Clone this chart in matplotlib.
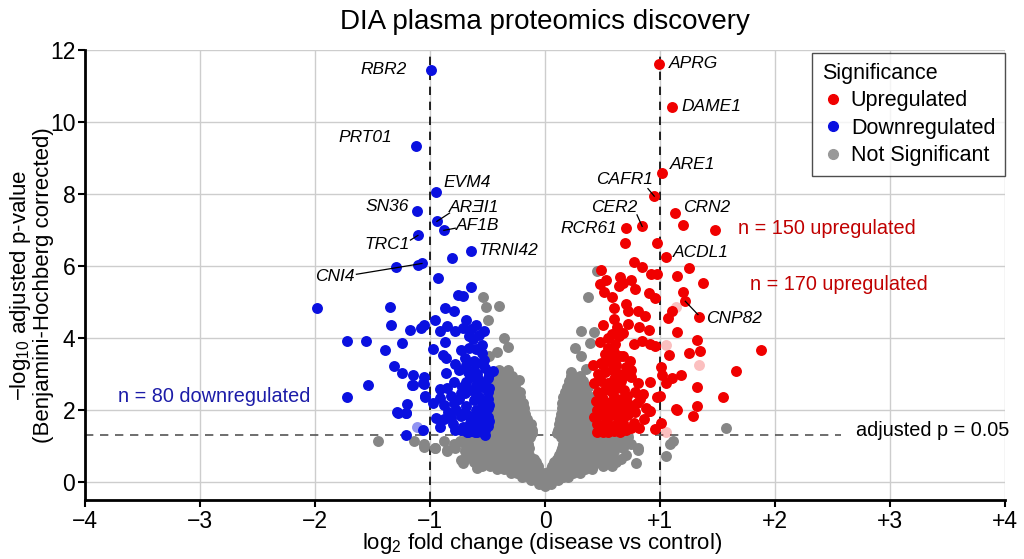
import matplotlib
matplotlib.use("Agg")
import matplotlib.pyplot as plt
from matplotlib.lines import Line2D

plt.rcParams['font.family'] = ['Liberation Sans', 'DejaVu Sans']
plt.rcParams['mathtext.default'] = 'regular'

# ---------------- data ----------------
x_ticks = [-4, -3, -2, -1, 0, 1, 2, 3, 4]
x_tick_labels = ['\u22124', '\u22123', '\u22122', '\u22121', '0', '+1', '+2', '+3', '+4']
y_ticks = [0, 2, 4, 6, 8, 10, 12]

# Not significant proteins, read row by row (y level, x values)
gray_rows = [
    (-0.12, [0.0]),
    (-0.05, [-0.05, 0.0, 0.05]),
    (0.05, [-0.12, -0.06, 0.0, 0.06, 0.11]),
    (0.15, [-0.2, -0.14, -0.08, -0.02, 0.04, 0.1, 0.16, 0.2]),
    (0.25, [-0.3, -0.24, -0.18, -0.12, -0.06, 0.0, 0.06, 0.12, 0.18, 0.24, 0.3]),
    (0.35, [-0.42, -0.36, -0.3, -0.24, -0.18, -0.12, -0.06, 0.05, 0.11, 0.17, 0.23, 0.29, 0.35, 0.41]),
    (0.45, [-0.55, -0.48, -0.42, -0.36, -0.3, -0.24, -0.18, -0.12, -0.06, 0.06, 0.12, 0.18, 0.24, 0.3, 0.36, 0.42, 0.5, 0.58]),
    (0.55, [-0.62, -0.52, -0.46, -0.4, -0.34, -0.28, -0.22, -0.16, -0.08, 0.08, 0.15, 0.21, 0.27, 0.33, 0.39, 0.46, 0.53, 0.62]),
    (0.65, [-0.7, -0.6, -0.54, -0.48, -0.42, -0.36, -0.3, -0.24, -0.18, -0.1, 0.1, 0.17, 0.23, 0.29, 0.35, 0.41, 0.48, 0.56, 0.66]),
    (0.75, [-0.66, -0.58, -0.52, -0.46, -0.4, -0.34, -0.28, -0.22, -0.14, 0.12, 0.19, 0.25, 0.31, 0.37, 0.43, 0.5, 0.58, 0.7]),
    (0.85, [-0.85, -0.7, -0.62, -0.55, -0.49, -0.43, -0.37, -0.31, -0.25, -0.16, 0.14, 0.2, 0.26, 0.32, 0.38, 0.44, 0.52, 0.6]),
    (0.95, [-0.96, -0.78, -0.66, -0.58, -0.52, -0.46, -0.4, -0.34, -0.28, -0.2, -0.14, 0.15, 0.21, 0.27, 0.33, 0.39, 0.45, 0.55, 0.68, 0.81]),
    (1.05, [-1.05, -0.79, -0.7, -0.6, -0.53, -0.47, -0.41, -0.35, -0.29, -0.22, -0.15, 0.16, 0.22, 0.28, 0.34, 0.4, 0.46, 0.53, 0.62, 0.75, 1.09]),
    (1.15, [-1.45, -1.14, -0.88, -0.74, -0.64, -0.55, -0.49, -0.43, -0.37, -0.31, -0.25, -0.17, 0.17, 0.23, 0.29, 0.35, 0.41, 0.47, 0.55, 0.66, 1.11]),
    (1.25, [-0.68, -0.57, -0.51, -0.45, -0.39, -0.33, -0.27, -0.2, -0.13, 0.14, 0.2, 0.26, 0.32, 0.38, 0.44, 0.5, 0.6, 0.72]),
    (1.35, [-0.47, -0.41, -0.35, -0.29, -0.23, -0.17, -0.11, 0.1, 0.16, 0.22, 0.28, 0.34, 0.4]),
    (1.45, [-0.46, -0.4, -0.34, -0.28, -0.22, -0.16, -0.11, 0.11, 0.17, 0.23, 0.29, 0.35, 0.41]),
    (1.6, [-0.47, -0.41, -0.35, -0.29, -0.23, -0.17, -0.12, 0.12, 0.18, 0.24, 0.3, 0.36, 0.42]),
    (1.75, [-0.46, -0.4, -0.34, -0.28, -0.22, -0.16, 0.13, 0.19, 0.25, 0.31, 0.37, 0.42]),
    (1.9, [-0.47, -0.41, -0.35, -0.29, -0.23, -0.17, 0.14, 0.2, 0.26, 0.32, 0.38]),
    (2.05, [-0.46, -0.4, -0.34, -0.28, -0.22, -0.18, 0.15, 0.21, 0.27, 0.33, 0.39]),
    (2.2, [-0.47, -0.41, -0.35, -0.29, -0.23, -0.19, 0.15, 0.21, 0.27, 0.33, 0.39]),
    (2.35, [-0.46, -0.4, -0.34, -0.28, -0.22, 0.16, 0.22, 0.28, 0.34, 0.4]),
    (2.5, [-0.45, -0.39, -0.33, -0.27, -0.22, 0.17, 0.23, 0.29, 0.35]),
    (2.65, [-0.44, -0.38, -0.32, -0.26, 0.19, 0.25, 0.31, 0.37]),
    (2.8, [-0.43, -0.37, -0.31, -0.25, 0.21, 0.27, 0.33]),
    (2.95, [-0.41, -0.35, -0.29, 0.23, 0.3]),
    (3.1, [-0.40, -0.32]),
]
gray_extra_x = [-0.73, -0.71, -0.59, -0.85, -0.96, -1.05, -0.23, -0.42, -0.49, -0.32, -0.36, -0.50, -0.51, -0.40, -0.54,
                0.79, 0.81, 1.05, 0.70, 0.23, 0.36, 0.31, 0.26, 0.39, 0.31, 0.43, 0.37, 0.455, 1.57]
gray_extra_y = [0.61, 0.53, 0.39, 0.89, 0.95, 0.97, 2.84, 3.6, 3.49, 3.76, 4.0, 4.5, 4.87, 4.88, 5.15,
                0.53, 0.89, 0.72, 1.2, 3.06, 3.15, 3.5, 3.73, 3.87, 4.2, 4.18, 5.13, 5.85, 1.5]

# Downregulated proteins
down_x = [-0.99, -1.12, -0.95, -1.11, -0.94, -0.88, -1.105, -0.645, -1.07,
          -0.81, -1.30, -1.105, -0.93, -0.64, -0.76, -0.71, -1.98, -1.35, -0.87, -0.79, -1.34, -1.17, -1.08, -1.05,
          -0.96, -0.91, -0.85, -0.69, -0.71, -0.64, -0.60, -0.57, -0.63, -1.72, -1.56, -1.24, -1.39, -0.97, -0.87,
          -0.73, -0.66, -0.55, -0.89, -0.86, -0.78, -0.69, -0.62, -0.53, -1.31, -1.24, -1.15, -1.05, -1.05, -1.15,
          -1.54, -1.72, -1.04, -0.91, -0.86, -0.79, -0.72, -0.69, -0.65, -0.59, -0.52, -0.45, -0.91, -0.82, -0.73,
          -0.70, -0.62, -0.55, -0.97, -0.88, -0.79, -0.69, -0.62, -0.53, -1.20, -1.28, -1.21, -0.95, -0.82, -0.73,
          -0.66, -0.59, -0.52, -0.91, -0.78, -0.71, -0.65, -0.58, -0.52, -1.06, -1.21, -0.59, -0.53, -0.68, -0.73,
          -0.50, -0.55, -0.50, -0.56, -0.50, -0.55, -0.60, -0.50, -0.57, -0.50, -0.60, -0.52, -0.58, -0.50, -0.62,
          -0.64, -0.56, -0.60, -0.66, -0.75, -0.77, -0.84, -0.70, -0.85, -0.80, -0.88, -0.62, -0.67, -0.56, -0.75,
          -0.70, -0.55, -0.60, -0.66, -0.78, -0.53, -1.29, -1.21, -1.16, -1.06, -1.04, -0.49, -0.49, -0.49, -0.49,
          -0.54, -0.58, -0.61, -0.64, -0.67, -0.52]
down_y = [11.45, 9.33, 8.05, 7.52, 7.24, 6.99, 6.85, 6.41, 6.07,
          6.23, 5.97, 6.02, 5.67, 5.41, 5.19, 5.16, 4.83, 4.85, 4.82, 4.74, 4.35, 4.23, 4.27, 4.37,
          4.51, 4.19, 4.33, 4.51, 4.27, 4.25, 4.37, 4.09, 3.96, 3.93, 3.92, 3.85, 3.68, 3.70, 3.88,
          3.66, 3.72, 3.58, 3.54, 3.45, 3.29, 3.24, 3.35, 3.40, 3.23, 3.04, 2.98, 2.93, 2.73, 2.70,
          2.70, 2.36, 2.38, 2.58, 3.03, 2.79, 2.65, 2.79, 2.93, 3.01, 3.17, 3.07, 2.33, 2.40, 2.47,
          2.47, 2.56, 2.65, 2.19, 2.14, 2.19, 2.10, 2.28, 2.19, 2.17, 1.93, 1.91, 1.77, 1.77, 1.82,
          1.82, 1.91, 1.96, 1.54, 1.45, 1.54, 1.64, 1.68, 1.45, 1.45, 1.31, 1.40, 1.37, 1.40, 1.45,
          1.55, 1.60, 1.80, 1.85, 2.05, 2.10, 2.00, 2.30, 2.35, 2.50, 2.45, 2.75, 2.85, 2.90, 1.75,
          1.50, 1.50, 2.70, 2.55, 2.30, 2.00, 1.95, 1.95, 2.60, 1.60, 1.75, 3.10, 3.05, 3.30, 3.10,
          3.45, 3.80, 3.70, 4.05, 4.20, 4.20, 1.95, 1.92, 2.70, 2.76, 2.37, 1.70, 2.15, 2.60, 3.00,
          1.38, 1.42, 1.38, 1.42, 1.38, 1.30]

# Upregulated proteins
up_x = [0.99, 1.10, 1.02, 0.95, 0.845, 0.70, 1.13, 1.20, 1.48, 1.05, 1.34,
        0.695, 0.97, 0.77, 0.84, 0.925, 0.97, 1.15, 1.25, 1.37, 0.68, 0.64, 0.78, 0.51, 0.58, 0.905, 0.96,
        1.20, 1.22, 1.10, 1.07, 0.60, 0.72, 0.81, 0.87, 0.60, 0.82, 0.90, 1.15, 0.58, 0.64, 0.84, 0.91,
        0.955, 1.32, 1.345, 1.25, 1.08, 1.88, 1.66, 1.55, 1.32, 1.32, 1.29, 1.185, 1.10, 1.055, 1.01, 1.02,
        1.15, 1.00, 1.01, 0.955, 0.91, 0.83, 0.77, 0.91, 0.81, 0.75, 0.695, 0.74, 0.68, 0.55, 0.61, 0.77,
        0.58, 0.42, 0.49, 1.14, 0.90, 0.97, 0.71, 0.49, 0.53,
        0.45, 0.50, 0.55, 0.60, 0.65, 0.70, 0.45, 0.52, 0.58, 0.63, 0.68, 0.43, 0.48, 0.55, 0.60, 0.66,
        0.72, 0.45, 0.50, 0.56, 0.62, 0.68, 0.74, 0.44, 0.50, 0.55, 0.60, 0.66, 0.71, 0.46, 0.52, 0.58,
        0.63, 0.69, 0.43, 0.49, 0.55, 0.60, 0.66, 0.46, 0.52, 0.58, 0.64, 0.50, 0.56, 0.62, 0.78, 0.80,
        0.85, 0.78, 0.86, 0.82, 0.88, 0.75, 0.47, 0.53, 0.64, 0.70, 0.57, 0.62, 0.75, 0.70, 0.65, 0.60,
        0.52, 0.48, 0.55, 0.63, 0.68, 0.72, 0.50, 0.70, 0.65, 0.48, 0.75]
up_y = [11.6, 10.42, 8.58, 7.94, 7.10, 7.05, 7.46, 7.13, 6.99, 6.24, 4.57,
        6.65, 6.63, 6.12, 5.97, 5.77, 5.77, 5.72, 5.95, 5.52, 5.52, 5.44, 5.35, 5.27, 5.13, 5.24, 5.10,
        5.27, 5.02, 4.74, 4.56, 4.84, 4.76, 4.74, 4.60, 4.53, 4.31, 4.21, 4.16, 4.12, 4.05, 3.91, 3.82,
        3.78, 3.94, 3.63, 3.57, 3.52, 3.66, 3.09, 2.36, 2.64, 2.10, 1.82, 2.96, 2.89, 2.75, 3.19, 2.98,
        2.01, 2.40, 1.65, 1.47, 1.96, 2.30, 1.64, 2.79, 2.75, 2.93, 2.98, 3.35, 3.49, 3.72, 3.82, 3.82,
        3.45, 3.26, 3.31, 2.02, 1.96, 2.36, 1.87, 5.90, 5.60,
        1.40, 1.40, 1.38, 1.42, 1.40, 1.45, 1.60, 1.62, 1.55, 1.60, 1.65, 1.80, 1.85, 1.80, 1.85, 1.80,
        1.90, 2.00, 2.05, 2.00, 2.10, 2.05, 2.15, 2.25, 2.30, 2.20, 2.35, 2.30, 2.40, 2.50, 2.55, 2.50,
        2.60, 2.55, 2.75, 2.80, 2.75, 2.85, 2.80, 3.00, 3.05, 3.10, 3.00, 3.25, 3.35, 3.25, 2.50, 2.20,
        2.45, 1.95, 1.75, 1.50, 2.05, 1.50, 1.50, 1.70, 1.95, 2.25, 2.62, 2.72, 3.10, 3.20, 3.50, 3.60,
        3.55, 3.90, 4.00, 4.30, 4.15, 4.40, 4.35, 4.95, 5.70, 5.50, 5.60]

# faint (semi-transparent) points seen in the picture
faint_up_x = [1.14, 1.05, 1.34, 1.055]
faint_up_y = [4.87, 3.80, 3.25, 1.40]
faint_down_x = [-1.11]
faint_down_y = [1.53]

# labelled proteins: name, text x, text y, ha
labels = [
    ('RBR2', -1.20, 11.45, 'right'),
    ('PRT01', -1.33, 9.58, 'right'),
    ('EVM4', -0.88, 8.33, 'left'),
    ('SN36', -1.18, 7.66, 'right'),
    ('AR\u018eI1', -0.835, 7.63, 'left'),
    ('AF1B', -0.775, 7.13, 'left'),
    ('TRC1', -1.18, 6.60, 'right'),
    ('TRNI42', -0.575, 6.43, 'left'),
    ('CNI4', -1.66, 5.71, 'right'),
    ('APRG', 1.08, 11.62, 'left'),
    ('DAME1', 1.19, 10.42, 'left'),
    ('ARE1', 1.09, 8.83, 'left'),
    ('CAFR1', 0.94, 8.41, 'right'),
    ('CER2', 0.80, 7.63, 'right'),
    ('RCR61', 0.63, 7.05, 'right'),
    ('CRN2', 1.20, 7.63, 'left'),
    ('ACDL1', 1.11, 6.38, 'left'),
    ('CNP82', 1.40, 4.54, 'left'),
]
connectors = [
    ((-0.94, 7.24), (-0.83, 7.47)),
    ((-0.88, 6.99), (-0.78, 7.05)),
    ((-1.105, 6.85), (-1.17, 6.72)),
    ((-1.07, 6.07), (-1.64, 5.77)),
    ((0.95, 7.94), (0.895, 8.15)),
    ((0.845, 7.10), (0.80, 7.42)),
    ((1.22, 5.02), (1.33, 4.65)),
]

title = 'DIA plasma proteomics discovery'
xlabel = 'log$_2$ fold change (disease vs control)'
ylabel = '\u2212log$_{10}$ adjusted p-value\n(Benjamini-Hochberg corrected)'
p_threshold_y = 1.30
fc_threshold = 1.0

RED = '#f00000'
BLUE = '#0a10e0'
GRAY = '#868686'

# ---------------- plot ----------------
fig = plt.figure(figsize=(10.24, 5.59), dpi=100)
ax = fig.add_axes([85 / 1024, 59 / 559, 920 / 1024, 450 / 559])

gx, gy = [], []
for yv, xs in gray_rows:
    for xv in xs:
        gx.append(xv)
        gy.append(yv)
gx += gray_extra_x
gy += gray_extra_y

ms = 62
ax.scatter(gx, gy, s=ms, c=GRAY, linewidths=0, zorder=3)
ax.scatter(down_x, down_y, s=ms, c=BLUE, linewidths=0, zorder=4)
ax.scatter(faint_down_x, faint_down_y, s=ms, c=BLUE, alpha=0.45, linewidths=0, zorder=4)
ax.scatter(up_x, up_y, s=ms, c=RED, linewidths=0, zorder=4)
ax.scatter(faint_up_x, faint_up_y, s=ms, c=RED, alpha=0.25, linewidths=0, zorder=4)

# thresholds
ax.axvline(-fc_threshold, color='black', lw=1.2, ls=(0, (5, 4)), zorder=2)
ax.axvline(fc_threshold, color='black', lw=1.2, ls=(0, (5, 4)), zorder=2)
ax.plot([-4, 2.57], [p_threshold_y, p_threshold_y], color='#555555', lw=1.2, ls=(0, (5, 4)), zorder=2)
ax.text(4.04, p_threshold_y + 0.12, 'adjusted p = 0.05', ha='right', va='center', fontsize=14.3,
        color='black', clip_on=False)

# labels
for name, tx, ty, ha in labels:
    ax.text(tx, ty, name, ha=ha, va='center', fontsize=12.5, style='italic', zorder=6)
for (x0, y0), (x1, y1) in connectors:
    ax.plot([x0, x1], [y0, y1], color='black', lw=0.9, zorder=5)

ax.text(-3.71, 2.37, 'n = 80 downregulated', ha='left', va='center', fontsize=14.3, color='#1c1ca8')
ax.text(1.68, 7.05, 'n = 150 upregulated', ha='left', va='center', fontsize=14.3, color='#c00000')
ax.text(1.78, 5.49, 'n = 170 upregulated', ha='left', va='center', fontsize=14.3, color='#c00000')

ax.set_xlim(-4, 4)
ax.set_ylim(-0.5, 12)
ax.set_xticks(x_ticks)
ax.set_xticklabels(x_tick_labels)
ax.set_yticks(y_ticks)
ax.tick_params(axis='both', labelsize=16.5, length=5, width=1.5, direction='out', pad=2)
ax.grid(True, color='#cdcdcd', lw=1.0, zorder=0)
ax.set_axisbelow(True)
for side in ['top', 'right']:
    ax.spines[side].set_visible(False)
for side in ['left', 'bottom']:
    ax.spines[side].set_linewidth(2.0)
    ax.spines[side].set_color('black')

ax.set_title(title, fontsize=20, pad=15)
fig.text(542 / 1024, 1 - 543 / 559, xlabel, ha='center', va='center', fontsize=16)
fig.text(31 / 1024, 1 - 285 / 559, ylabel, ha='center', va='center', rotation=90,
         fontsize=16, linespacing=1.0, multialignment='center')

handles = [
    Line2D([], [], marker='o', ls='', color=RED, markersize=7, label='Upregulated'),
    Line2D([], [], marker='o', ls='', color=BLUE, markersize=7, label='Downregulated'),
    Line2D([], [], marker='o', ls='', color='#999999', markersize=7, label='Not Significant'),
]
leg = ax.legend(handles=handles, title='Significance', loc='upper right',
                bbox_to_anchor=(1005 / 1024, 1 - 53 / 559), bbox_transform=fig.transFigure,
                fontsize=15.5, title_fontsize=15.5, frameon=True, fancybox=False, edgecolor='#222222',
                handletextpad=0.35, handlelength=1.0, borderpad=0.45, labelspacing=0.3,
                borderaxespad=0.0)
leg._legend_box.align = 'left'
leg.get_frame().set_linewidth(1.0)
leg.set_zorder(10)

fig.savefig('out.png', dpi=100)
